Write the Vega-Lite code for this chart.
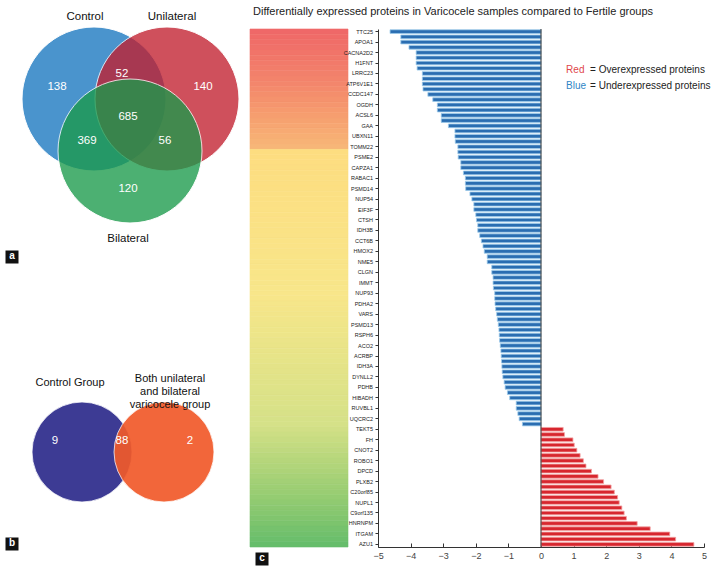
{
 "$schema": "https://vega.github.io/schema/vega-lite/v6.json",
 "padding": {"left": 0, "top": 5, "right": 2, "bottom": 2},
 "autosize": {"type": "pad"},
 "bounds": "flush",
 "spacing": 30,
 "config": {"font": "Liberation Sans", "view": {"stroke": null}},
 "datasets": {
  "prot": [
   {"idx":0,"label":"TTC25","fc":-4.63},{"idx":1,"label":"","fc":-4.30},{"idx":2,"label":"APOA1","fc":-4.30},{"idx":3,"label":"","fc":-4.05},
   {"idx":4,"label":"CACNA2D2","fc":-3.83},{"idx":5,"label":"","fc":-3.83},{"idx":6,"label":"H1FNT","fc":-3.83},{"idx":7,"label":"","fc":-3.80},
   {"idx":8,"label":"LRRC23","fc":-3.64},{"idx":9,"label":"","fc":-3.64},{"idx":10,"label":"ATP6V1E1","fc":-3.64},{"idx":11,"label":"","fc":-3.62},
   {"idx":12,"label":"CCDC147","fc":-3.47},{"idx":13,"label":"","fc":-3.32},{"idx":14,"label":"OGDH","fc":-3.18},{"idx":15,"label":"","fc":-3.18},
   {"idx":16,"label":"ACSL6","fc":-3.06},{"idx":17,"label":"","fc":-3.06},{"idx":18,"label":"GAA","fc":-2.84},{"idx":19,"label":"","fc":-2.64},
   {"idx":20,"label":"UBXN11","fc":-2.64},{"idx":21,"label":"","fc":-2.63},{"idx":22,"label":"TOMM22","fc":-2.55},{"idx":23,"label":"","fc":-2.55},
   {"idx":24,"label":"PSME2","fc":-2.54},{"idx":25,"label":"","fc":-2.46},{"idx":26,"label":"CAPZA1","fc":-2.46},{"idx":27,"label":"","fc":-2.38},
   {"idx":28,"label":"RABAC1","fc":-2.32},{"idx":29,"label":"","fc":-2.32},{"idx":30,"label":"PSMD14","fc":-2.31},{"idx":31,"label":"","fc":-2.18},
   {"idx":32,"label":"NUP54","fc":-2.12},{"idx":33,"label":"","fc":-2.06},{"idx":34,"label":"EIF3F","fc":-2.06},{"idx":35,"label":"","fc":-2.00},
   {"idx":36,"label":"CTSH","fc":-1.98},{"idx":37,"label":"","fc":-1.94},{"idx":38,"label":"IDH3B","fc":-1.94},{"idx":39,"label":"","fc":-1.88},
   {"idx":40,"label":"CCT6B","fc":-1.83},{"idx":41,"label":"","fc":-1.78},{"idx":42,"label":"HMOX2","fc":-1.74},{"idx":43,"label":"","fc":-1.65},
   {"idx":44,"label":"NME5","fc":-1.65},{"idx":45,"label":"","fc":-1.51},{"idx":46,"label":"CLGN","fc":-1.51},{"idx":47,"label":"","fc":-1.47},
   {"idx":48,"label":"IMMT","fc":-1.47},{"idx":49,"label":"","fc":-1.46},{"idx":50,"label":"NUP93","fc":-1.42},{"idx":51,"label":"","fc":-1.42},
   {"idx":52,"label":"PDHA2","fc":-1.41},{"idx":53,"label":"","fc":-1.39},{"idx":54,"label":"VARS","fc":-1.36},{"idx":55,"label":"","fc":-1.34},
   {"idx":56,"label":"PSMD13","fc":-1.31},{"idx":57,"label":"","fc":-1.29},{"idx":58,"label":"RSPH6","fc":-1.28},{"idx":59,"label":"","fc":-1.27},
   {"idx":60,"label":"ACO2","fc":-1.25},{"idx":61,"label":"","fc":-1.23},{"idx":62,"label":"ACRBP","fc":-1.22},{"idx":63,"label":"","fc":-1.21},
   {"idx":64,"label":"IDH3A","fc":-1.20},{"idx":65,"label":"","fc":-1.19},{"idx":66,"label":"DYNLL2","fc":-1.17},{"idx":67,"label":"","fc":-1.13},
   {"idx":68,"label":"PDHB","fc":-1.10},{"idx":69,"label":"","fc":-1.03},{"idx":70,"label":"HIBADH","fc":-0.96},{"idx":71,"label":"","fc":-0.76},
   {"idx":72,"label":"RUVBL1","fc":-0.76},{"idx":73,"label":"","fc":-0.71},{"idx":74,"label":"UQCRC2","fc":-0.67},{"idx":75,"label":"","fc":-0.57},
   {"idx":76,"label":"TEKT5","fc":0.68},{"idx":77,"label":"","fc":0.72},{"idx":78,"label":"FH","fc":0.98},{"idx":79,"label":"","fc":1.02},
   {"idx":80,"label":"CNOT2","fc":1.10},{"idx":81,"label":"","fc":1.20},{"idx":82,"label":"ROBO1","fc":1.30},{"idx":83,"label":"","fc":1.38},
   {"idx":84,"label":"DPCD","fc":1.55},{"idx":85,"label":"","fc":1.75},{"idx":86,"label":"PLXB2","fc":1.92},{"idx":87,"label":"","fc":2.15},
   {"idx":88,"label":"C20orf85","fc":2.25},{"idx":89,"label":"","fc":2.35},{"idx":90,"label":"NUPL1","fc":2.40},{"idx":91,"label":"","fc":2.48},
   {"idx":92,"label":"C9orf135","fc":2.55},{"idx":93,"label":"","fc":2.62},{"idx":94,"label":"HNRNPM","fc":2.95},{"idx":95,"label":"","fc":3.35},
   {"idx":96,"label":"ITGAM","fc":3.95},{"idx":97,"label":"","fc":4.13},{"idx":98,"label":"AZU1","fc":4.69}
  ],
  "vennA_sets": [
   {"set":"Control","cx":94,"cy":70,"lx":85,"ly":-12},
   {"set":"Unilateral","cx":167,"cy":70,"lx":172,"ly":-12},
   {"set":"Bilateral","cx":130,"cy":122,"lx":128,"ly":210}
  ],
  "vennA_counts": [
   {"region":"Control only","n":138,"x":57,"y":58},
   {"region":"Control & Unilateral","n":52,"x":122,"y":45},
   {"region":"Unilateral only","n":140,"x":203,"y":58},
   {"region":"All three","n":685,"x":128,"y":88},
   {"region":"Control & Bilateral","n":369,"x":87,"y":112},
   {"region":"Unilateral & Bilateral","n":56,"x":165,"y":112},
   {"region":"Bilateral only","n":120,"x":128,"y":160}
  ],
  "vennB_sets": [
   {"set":"Control Group","cx":82,"cy":423,"lx":70,"ly":354,"name":["Control Group"]},
   {"set":"Both","cx":164,"cy":423,"lx":170,"ly":350,"name":["Both unilateral","and bilateral","varicocele group"]}
  ],
  "vennB_counts": [
   {"region":"Control only","n":9,"x":55,"y":412},
   {"region":"Both","n":88,"x":122,"y":412},
   {"region":"Varicocele only","n":2,"x":190,"y":412}
  ],
  "panels": [
   {"panel":"a","px":12,"py":228},
   {"panel":"b","px":12,"py":515},
   {"panel":"c","px":262,"py":530}
  ]
 },
 "hconcat": [
  {
   "width": 220, "height": 518,
   "layer": [
    {"data": {"name": "vennA_sets"},
     "mark": {"type": "point", "filled": true, "shape": "circle", "size": 20736, "opacity": 0.78, "stroke": "#ffffff", "strokeWidth": 1},
     "encoding": {
      "x": {"field": "cx", "type": "quantitative", "scale": {"domain": [0, 220], "nice": false, "zero": false}, "axis": null},
      "y": {"field": "cy", "type": "quantitative", "scale": {"domain": [0, 518], "nice": false, "zero": false, "reverse": true}, "axis": null},
      "color": {"field": "set", "type": "nominal", "scale": {"domain": ["Control", "Unilateral", "Bilateral", "Control Group", "Both"], "range": ["#1877c0", "#c21f2f", "#1b9a4b", "#2d2b8c", "#f15a2a"]}, "legend": null}
     }},
    {"data": {"name": "vennB_sets"},
     "mark": {"type": "point", "filled": true, "shape": "circle", "size": 10000, "opacity": 0.92, "stroke": "#ffffff", "strokeWidth": 0.8},
     "encoding": {
      "x": {"field": "cx", "type": "quantitative", "scale": {"domain": [0, 220], "nice": false, "zero": false}, "axis": null},
      "y": {"field": "cy", "type": "quantitative", "scale": {"domain": [0, 518], "nice": false, "zero": false, "reverse": true}, "axis": null},
      "color": {"field": "set", "type": "nominal", "scale": {"domain": ["Control", "Unilateral", "Bilateral", "Control Group", "Both"], "range": ["#1877c0", "#c21f2f", "#1b9a4b", "#2d2b8c", "#f15a2a"]}, "legend": null}
     }},
    {"data": {"name": "vennA_sets"},
     "mark": {"type": "text", "fontSize": 11.5, "color": "#111", "baseline": "middle"},
     "encoding": {
      "x": {"field": "lx", "type": "quantitative", "scale": {"domain": [0, 220], "nice": false, "zero": false}, "axis": null},
      "y": {"field": "ly", "type": "quantitative", "scale": {"domain": [0, 518], "nice": false, "zero": false, "reverse": true}, "axis": null},
      "text": {"field": "set"}
     }},
    {"data": {"name": "vennB_sets"},
     "mark": {"type": "text", "fontSize": 11, "color": "#111", "baseline": "middle", "lineHeight": 13},
     "encoding": {
      "x": {"field": "lx", "type": "quantitative", "scale": {"domain": [0, 220], "nice": false, "zero": false}, "axis": null},
      "y": {"field": "ly", "type": "quantitative", "scale": {"domain": [0, 518], "nice": false, "zero": false, "reverse": true}, "axis": null},
      "text": {"field": "name"}
     }},
    {"data": {"name": "vennA_counts"},
     "mark": {"type": "text", "fontSize": 11.5, "color": "#ffffff", "baseline": "middle"},
     "encoding": {
      "x": {"field": "x", "type": "quantitative", "scale": {"domain": [0, 220], "nice": false, "zero": false}, "axis": null},
      "y": {"field": "y", "type": "quantitative", "scale": {"domain": [0, 518], "nice": false, "zero": false, "reverse": true}, "axis": null},
      "text": {"field": "n"}
     }},
    {"data": {"name": "vennB_counts"},
     "mark": {"type": "text", "fontSize": 11.5, "color": "#ffffff", "baseline": "middle"},
     "encoding": {
      "x": {"field": "x", "type": "quantitative", "scale": {"domain": [0, 220], "nice": false, "zero": false}, "axis": null},
      "y": {"field": "y", "type": "quantitative", "scale": {"domain": [0, 518], "nice": false, "zero": false, "reverse": true}, "axis": null},
      "text": {"field": "n"}
     }},
    {"data": {"name": "panels"},
     "mark": {"type": "point", "shape": "square", "filled": true, "size": 169, "color": "#111", "opacity": 1},
     "encoding": {
      "x": {"field": "px", "type": "quantitative", "scale": {"domain": [0, 220], "nice": false, "zero": false}, "axis": null},
      "y": {"field": "py", "type": "quantitative", "scale": {"domain": [0, 518], "nice": false, "zero": false, "reverse": true}, "axis": null}}},
    {"data": {"name": "panels"},
     "mark": {"type": "text", "fontSize": 10, "fontWeight": "bold", "color": "#ffffff", "baseline": "middle", "dy": -1},
     "encoding": {
      "x": {"field": "px", "type": "quantitative", "scale": {"domain": [0, 220], "nice": false, "zero": false}, "axis": null},
      "y": {"field": "py", "type": "quantitative", "scale": {"domain": [0, 518], "nice": false, "zero": false, "reverse": true}, "axis": null},
      "text": {"field": "panel"}}}
   ]
  },
  {
   "width": 98, "height": 518,
   "data": {"name": "prot"},
   "mark": {"type": "rect", "strokeWidth": 0.6},
   "encoding": {
    "y": {"field": "idx", "type": "ordinal", "axis": null, "scale": {"paddingInner": 0, "paddingOuter": 0}},
    "color": {"field": "idx", "type": "quantitative", "legend": null,
     "scale": {"domain": [0, 10, 22, 23, 50, 75, 98], "range": ["#ef6868", "#f3866c", "#f7b678", "#fddd80", "#f8e68a", "#d5e188", "#66bd6b"]}},
    "stroke": {"field": "idx", "type": "quantitative", "legend": null,
     "scale": {"domain": [0, 10, 22, 23, 50, 75, 98], "range": ["#ef6868", "#f3866c", "#f7b678", "#fddd80", "#f8e68a", "#d5e188", "#66bd6b"]}}
   }
  },
  {
   "width": 326, "height": 518,
   "title": {"text": "Differentially expressed proteins in Varicocele samples compared to Fertile groups", "anchor": "start", "frame": "group", "dx": -125, "fontSize": 11, "fontWeight": "normal", "color": "#222", "offset": 12},
   "resolve": {"axis": {"x": "independent", "y": "independent"}},
   "layer": [
    {"data": {"name": "prot"},
     "mark": {"type": "bar", "strokeWidth": 0.8},
     "encoding": {
      "y": {"field": "idx", "type": "ordinal", "scale": {"paddingInner": 0.3, "paddingOuter": 0.15},
       "axis": {"values": [0,2,4,6,8,10,12,14,16,18,20,22,24,26,28,30,32,34,36,38,40,42,44,46,48,50,52,54,56,58,60,62,64,66,68,70,72,74,76,78,80,82,84,86,88,90,92,94,96,98], "labels": false, "tickSize": 3, "domainColor": "#333", "tickColor": "#333", "title": null}},
      "x": {"field": "fc", "type": "quantitative", "scale": {"domain": [-5, 5]},
       "axis": {"values": [-5,-4,-3,-2,-1,0,1,2,3,4,5], "labelOverlap": false, "labelFlush": false, "tickSize": -4, "labelPadding": 8, "title": null, "grid": false, "labelFontSize": 9, "labelColor": "#444", "domainColor": "#333", "tickColor": "#333"}},
      "color": {"condition": {"test": "datum.fc > 0", "value": "#d7262e"}, "value": "#2a6db1"},
      "stroke": {"condition": {"test": "datum.fc > 0", "value": "#f2a3a3"}, "value": "#9dcbeb"}
     }},
    {"data": {"values": [{}]},
     "mark": {"type": "rule", "color": "#333", "strokeWidth": 1},
     "encoding": {"x": {"datum": 0, "type": "quantitative", "axis": null}}},
    {"data": {"name": "prot"},
     "transform": [{"filter": "datum.label != ''"}],
     "mark": {"type": "text", "align": "right", "baseline": "middle", "fontSize": 5.5, "dx": -5, "color": "#222"},
     "encoding": {"x": {"datum": -5, "type": "quantitative", "axis": null}, "y": {"field": "idx", "type": "ordinal", "axis": null}, "text": {"field": "label"}}},
    {"data": {"values": [{"k": "Red", "row": 7}, {"k": "Blue", "row": 10}]},
     "mark": {"type": "text", "align": "left", "baseline": "middle", "fontSize": 10, "dy": 2},
     "encoding": {"x": {"datum": 0.77, "type": "quantitative", "axis": null}, "y": {"field": "row", "type": "ordinal", "axis": null}, "text": {"field": "k"},
      "color": {"field": "k", "type": "nominal", "scale": {"domain": ["Red", "Blue"], "range": ["#e0464b", "#2f86c6"]}, "legend": null}}},
    {"data": {"values": [{"k": "Red", "r": "= Overexpressed proteins", "row": 7}, {"k": "Blue", "r": "= Underexpressed proteins", "row": 10}]},
     "mark": {"type": "text", "align": "left", "baseline": "middle", "fontSize": 10, "dy": 2, "color": "#222"},
     "encoding": {"x": {"datum": 0.77, "type": "quantitative", "axis": null}, "y": {"field": "row", "type": "ordinal", "axis": null}, "text": {"field": "r"},
      "xOffset": {"condition": {"test": "datum.k == 'Red'", "value": 21}, "value": 24}}}
   ]
  }
 ]
}
